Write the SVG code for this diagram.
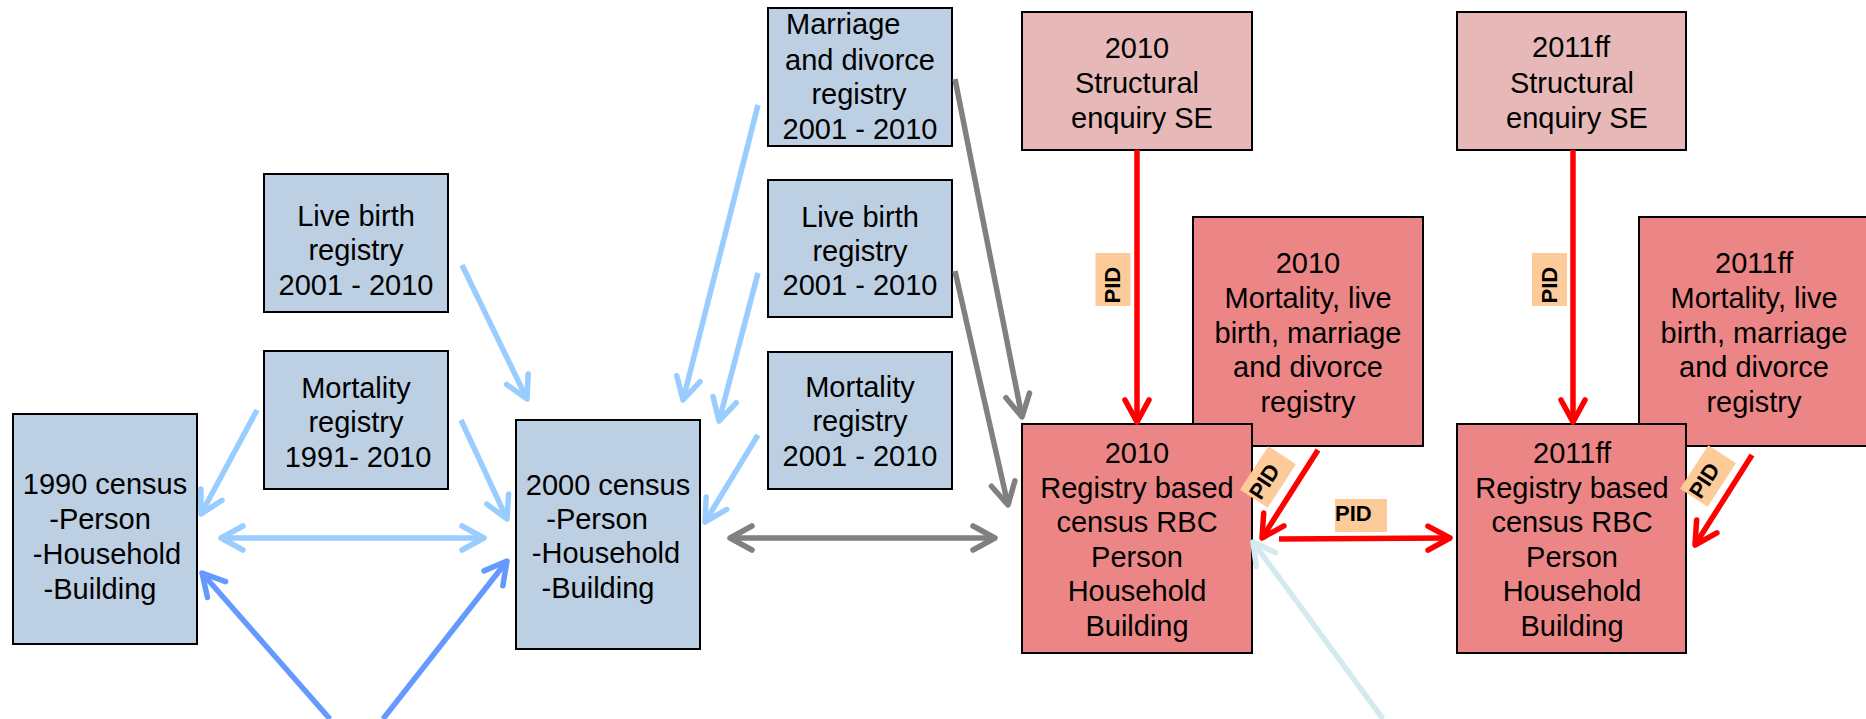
<svg xmlns="http://www.w3.org/2000/svg" width="1866" height="719" viewBox="0 0 1866 719">
<style>
.box{stroke:#000;stroke-width:2}
.blue{fill:#bdcfe2}
.pink{fill:#e6b9b8}
.red{fill:#ec8686}
text{font-family:"Liberation Sans",Arial,sans-serif;font-size:29px;fill:#000}
.c{text-anchor:middle}
.pid{font-weight:bold;font-size:22px}
.tag{fill:#fdcb99}
.ln{fill:none;stroke-width:5.5}
.lb{stroke:#99ccff}
.db{stroke:#6699ff}
.gr{stroke:#808080}
.rd{stroke:#ff0000}
.cy{stroke:#d3eaef}
</style>
<defs>
<marker id="mlb" markerUnits="userSpaceOnUse" markerWidth="34" markerHeight="34" viewBox="-28 -17 34 34" refX="0" refY="0" orient="auto-start-reverse"><path d="M-22,-12 L0,0 L-22,12" fill="none" stroke="#99ccff" stroke-width="5.5" stroke-linecap="round" stroke-linejoin="round"/></marker>
<marker id="mdb" markerUnits="userSpaceOnUse" markerWidth="34" markerHeight="34" viewBox="-28 -17 34 34" refX="0" refY="0" orient="auto-start-reverse"><path d="M-22,-12 L0,0 L-22,12" fill="none" stroke="#6699ff" stroke-width="5.5" stroke-linecap="round" stroke-linejoin="round"/></marker>
<marker id="mgr" markerUnits="userSpaceOnUse" markerWidth="34" markerHeight="34" viewBox="-28 -17 34 34" refX="0" refY="0" orient="auto-start-reverse"><path d="M-22,-12 L0,0 L-22,12" fill="none" stroke="#808080" stroke-width="5.5" stroke-linecap="round" stroke-linejoin="round"/></marker>
<marker id="mrd" markerUnits="userSpaceOnUse" markerWidth="34" markerHeight="34" viewBox="-28 -17 34 34" refX="0" refY="0" orient="auto-start-reverse"><path d="M-22,-12 L0,0 L-22,12" fill="none" stroke="#ff0000" stroke-width="5.5" stroke-linecap="round" stroke-linejoin="round"/></marker>
<marker id="mcy" markerUnits="userSpaceOnUse" markerWidth="34" markerHeight="34" viewBox="-28 -17 34 34" refX="0" refY="0" orient="auto-start-reverse"><path d="M-22,-12 L0,0 L-22,12" fill="none" stroke="#d3eaef" stroke-width="5.5" stroke-linecap="round" stroke-linejoin="round"/></marker>
</defs>
<rect width="1866" height="719" fill="#fff"/>

<g id="census1990">
<rect class="box blue" x="13" y="414" width="184" height="230"/>
<text class="c" x="105" y="494">1990 census</text>
<text class="c" x="100" y="529">-Person</text>
<text class="c" x="107" y="564">-Household</text>
<text class="c" x="100" y="599">-Building</text>
</g>
<g id="livebirth_left">
<rect class="box blue" x="264" y="174" width="184" height="138"/>
<text class="c" x="356" y="226">Live birth</text>
<text class="c" x="356" y="260">registry</text>
<text class="c" x="356" y="295">2001 - 2010</text>
</g>
<g id="mortality_left">
<rect class="box blue" x="264" y="351" width="184" height="138"/>
<text class="c" x="356" y="398">Mortality</text>
<text class="c" x="356" y="432">registry</text>
<text class="c" x="358" y="467">1991- 2010</text>
</g>
<g id="census2000">
<rect class="box blue" x="516" y="420" width="184" height="229"/>
<text class="c" x="608" y="495">2000 census</text>
<text class="c" x="597" y="529">-Person</text>
<text class="c" x="606" y="563">-Household</text>
<text class="c" x="598" y="598">-Building</text>
</g>
<g id="marriage_mid">
<rect class="box blue" x="768" y="8" width="184" height="138"/>
<text x="786" y="34">Marriage</text>
<text class="c" x="860" y="69.5">and divorce</text>
<text class="c" x="859" y="104">registry</text>
<text class="c" x="860" y="139">2001 - 2010</text>
</g>
<g id="livebirth_mid">
<rect class="box blue" x="768" y="180" width="184" height="137"/>
<text class="c" x="860" y="227">Live birth</text>
<text class="c" x="860" y="261">registry</text>
<text class="c" x="860" y="295">2001 - 2010</text>
</g>
<g id="mortality_mid">
<rect class="box blue" x="768" y="352" width="184" height="137"/>
<text class="c" x="860" y="397">Mortality</text>
<text class="c" x="860" y="431">registry</text>
<text class="c" x="860" y="466">2001 - 2010</text>
</g>
<g id="se2010">
<rect class="box pink" x="1022" y="12" width="230" height="138"/>
<text class="c" x="1137" y="58">2010</text>
<text class="c" x="1137" y="93">Structural</text>
<text class="c" x="1142" y="128">enquiry SE</text>
</g>
<g id="reg2010">
<rect class="box red" x="1193" y="217" width="230" height="229"/>
<text class="c" x="1308" y="273">2010</text>
<text class="c" x="1308" y="308">Mortality, live</text>
<text class="c" x="1308" y="343">birth, marriage</text>
<text class="c" x="1308" y="377">and divorce</text>
<text class="c" x="1308" y="412">registry</text>
</g>
<g id="rbc2010">
<rect class="box red" x="1022" y="424" width="230" height="229"/>
<text class="c" x="1137" y="463">2010</text>
<text class="c" x="1137" y="498">Registry based</text>
<text class="c" x="1137" y="532">census RBC</text>
<text class="c" x="1137" y="567">Person</text>
<text class="c" x="1137" y="601">Household</text>
<text class="c" x="1137" y="636">Building</text>
</g>
<g id="se2011">
<rect class="box pink" x="1457" y="12" width="229" height="138"/>
<text class="c" x="1571" y="57">2011ff</text>
<text class="c" x="1572" y="93">Structural</text>
<text class="c" x="1577" y="128">enquiry SE</text>
</g>
<g id="reg2011">
<rect class="box red" x="1639" y="217" width="230" height="229"/>
<text class="c" x="1754" y="273">2011ff</text>
<text class="c" x="1754" y="308">Mortality, live</text>
<text class="c" x="1754" y="343">birth, marriage</text>
<text class="c" x="1754" y="377">and divorce</text>
<text class="c" x="1754" y="412">registry</text>
</g>
<g id="rbc2011">
<rect class="box red" x="1457" y="424" width="229" height="229"/>
<text class="c" x="1572" y="463">2011ff</text>
<text class="c" x="1572" y="498">Registry based</text>
<text class="c" x="1572" y="532">census RBC</text>
<text class="c" x="1572" y="567">Person</text>
<text class="c" x="1572" y="601">Household</text>
<text class="c" x="1572" y="636">Building</text>
</g>

<g id="connectors">
<line class="ln lb" x1="462" y1="265" x2="527" y2="399" marker-end="url(#mlb)"/>
<line class="ln lb" x1="257" y1="410" x2="201" y2="514" marker-end="url(#mlb)"/>
<line class="ln lb" x1="461" y1="420" x2="507" y2="519" marker-end="url(#mlb)"/>
<line class="ln lb" x1="221" y1="538" x2="484" y2="538" marker-start="url(#mlb)" marker-end="url(#mlb)"/>
<line class="ln lb" x1="758" y1="105" x2="683" y2="400" marker-end="url(#mlb)"/>
<line class="ln lb" x1="758" y1="273" x2="719" y2="421" marker-end="url(#mlb)"/>
<line class="ln lb" x1="758" y1="435" x2="705" y2="522" marker-end="url(#mlb)"/>
<line class="ln db" x1="330" y1="719" x2="202" y2="573" marker-end="url(#mdb)"/>
<line class="ln db" x1="383" y1="719" x2="507" y2="561" marker-end="url(#mdb)"/>
<line class="ln gr" x1="955" y1="79" x2="1022" y2="417" marker-end="url(#mgr)"/>
<line class="ln gr" x1="955" y1="271" x2="1008" y2="505" marker-end="url(#mgr)"/>
<line class="ln gr" x1="730" y1="538" x2="995" y2="538" marker-start="url(#mgr)" marker-end="url(#mgr)"/>
<line class="ln rd" x1="1137" y1="150" x2="1137" y2="422" marker-end="url(#mrd)"/>
<line class="ln rd" x1="1573" y1="150" x2="1573" y2="422" marker-end="url(#mrd)"/>
<line class="ln rd" x1="1318" y1="450" x2="1262" y2="538" marker-end="url(#mrd)"/>
<line class="ln rd" x1="1752" y1="455" x2="1695" y2="545" marker-end="url(#mrd)"/>
<line class="ln rd" x1="1279" y1="539" x2="1450" y2="538" marker-end="url(#mrd)"/>
<line class="ln cy" x1="1383" y1="719" x2="1253" y2="542" marker-end="url(#mcy)"/>
<g transform="translate(1112.5,279.5) rotate(-90)"><rect class="tag" x="-26.5" y="-17" width="53" height="35"/><text class="pid" x="-24" y="7.5">PID</text></g>
<g transform="translate(1549,279.5) rotate(-90)"><rect class="tag" x="-26.5" y="-17" width="53" height="35"/><text class="pid" x="-24" y="7.5">PID</text></g>
<g transform="translate(1361,515.5)"><rect class="tag" x="-26" y="-16.5" width="52" height="33"/><text class="pid" x="-26" y="5.5">PID</text></g>
<g transform="translate(1268,477) rotate(-57)"><rect class="tag" x="-26" y="-16.5" width="52" height="33"/><text class="pid" x="-24" y="7">PID</text></g>
<g transform="translate(1708,476) rotate(-57)"><rect class="tag" x="-26" y="-16.5" width="52" height="33"/><text class="pid" x="-24" y="7">PID</text></g>
</g>
</svg>
